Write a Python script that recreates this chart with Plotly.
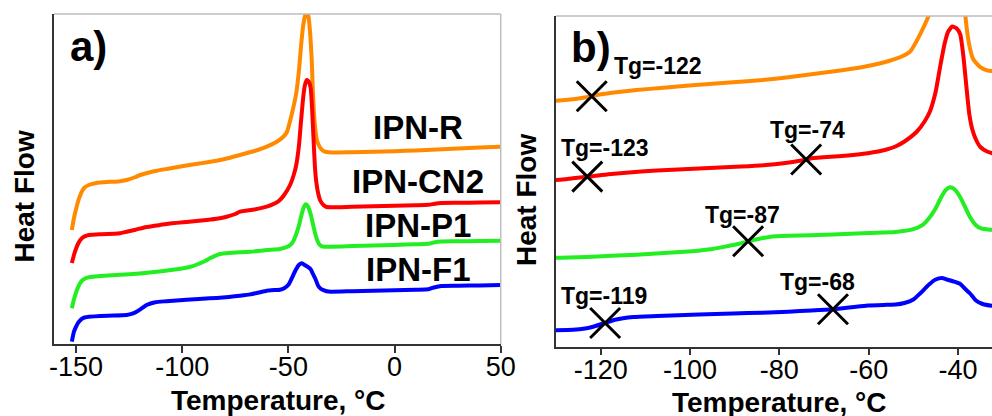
import numpy as np
import plotly.graph_objects as go

# ---- DSC heat-flow traces (temperature in degC, heat flow in arbitrary units) ----
samples = ["IPN-R", "IPN-CN2", "IPN-P1", "IPN-F1"]
colors = ["#ff8a00", "#ff0000", "#22ee22", "#0000ff"]

temp_r = [-152, -151, -150, -149, -148, -147, -146, -144, -141, -138.7, -134, -130, -126.2, -122,
          -119.9, -116, -112, -106, -99.5, -92, -83.8, -78, -72.8, -66, -60.2, -55.5, -52.5, -50.7,
          -48.5, -46.3, -45, -44, -43, -42, -41.3, -40.5, -39.7, -39, -38.4, -37.6, -36.6, -35.1,
          -33.5, -32, -30, -20, -10, 0, 10, 20, 30, 40, 50]
hf_r = [-45, -33, -24, -16, -10, -5.5, -2.5, 0, 1.8, 2.5, 3.2, 3.6, 5, 8,
        10, 12.3, 14.3, 16.5, 19, 21.5, 24.3, 27, 30, 34, 38.3, 43.3, 48, 53,
        70, 92, 115, 140, 160, 170, 173, 168, 150, 125, 90, 62, 45, 37.5,
        34, 33, 32.5, 32.8, 33.2, 33.8, 34.5, 35.5, 36.5, 37.5, 38.3]

temp_cn2 = [-152, -151, -150, -149, -148, -147, -146, -144, -138, -132, -129.3, -126.2, -122, -118.3,
            -113, -107.4, -98, -88.5, -83, -79.1, -75, -72.8, -66, -60.2, -56, -54, -52, -49.2,
            -47.5, -46.3, -45, -44, -43, -42.2, -41.3, -40.3, -39.5, -38.8, -38.2, -37.5, -36.8,
            -36, -35, -33.5, -32, -30, -20, -10, 0, 10, 16, 19, 22, 30, 40, 50]
hf_cn2 = [-28, -20, -13.5, -8.5, -5, -2.8, -1.4, 0, 0.8, 1.3, 1.7, 3.3, 5.3, 7.3,
          9.2, 11, 13, 15, 16.5, 18.3, 21, 23.3, 25.5, 28.3, 32, 35, 40, 50,
          60, 70, 90, 115, 138, 150, 155, 153, 147, 125, 98, 68, 52,
          42, 34.5, 30, 28, 27.7, 28.2, 28.7, 29.2, 29.7, 30.2, 31.3, 32, 32.2, 32.5, 32.7]

temp_p1 = [-152, -151, -150, -149, -148, -147, -146, -144, -135, -123, -112, -99.5, -95, -91.7,
           -89, -87, -84.5, -82.2, -78, -68, -60, -54, -50, -48, -46.5, -45, -44, -42.8, -41.8,
           -40.8, -39.5, -38.3, -37.3, -36, -35, -33, -30, -20, -10, 0, 10, 16, 19, 22, 30, 40, 50]
hf_p1 = [-31, -22, -15, -9.5, -5.5, -3, -1.4, 0, 1.8, 3.3, 5.5, 9, 11.2, 14,
         16.5, 19, 21.5, 23.3, 24.4, 25.6, 27.3, 28.3, 31, 35, 42, 52, 61, 70, 73,
         71, 63, 52, 43, 35, 32, 30.5, 30.6, 31.2, 31.8, 32.4, 33, 33.5, 35, 35.8, 36, 36.3, 36.6]

temp_f1 = [-152, -151, -150, -149, -148, -147, -146, -144, -135, -126.2, -123.5, -121.5, -119,
           -116.8, -112.7, -107.4, -98, -90.4, -83.8, -78, -72.8, -68, -63.4, -60.2, -56, -54,
           -52, -50, -48.5, -46.5, -45, -43.6, -42.5, -41, -39.5, -38.5, -37.3, -36, -34.5, -32,
           -30, -20, -10, 0, 10, 16, 19, 22, 30, 40, 50]
hf_f1 = [-25, -15, -10, -6, -3.5, -1.8, -0.8, 0, 1, 1.7, 3, 5, 8.5,
         11.7, 14.5, 15.5, 17, 18, 18.8, 19.8, 21, 22.3, 24.5, 26, 26.7, 27,
         28.5, 32, 38, 47, 52, 53.5, 52, 50, 47.5, 43, 38, 31, 27.5, 25.5,
         25, 25.5, 26, 26.5, 27, 27.5, 29.5, 30.7, 31, 31.3, 31.7]

temps = [temp_r, temp_cn2, temp_p1, temp_f1]
flows = [hf_r, hf_cn2, hf_p1, hf_f1]

# vertical shifts used to stack the curves in each panel
shift_a = [159, 109, 66.7, 27.3]
shift_b = [242.4, 165.2, 86.5, 15.2]

# glass transitions marked in panel b: (sample index, Tg in degC)
tg_sample = [0, 1, 1, 2, 3, 3]
tg_value = [-122, -123, -74, -87, -119, -68]
# label centre for each Tg (temperature, shifted heat flow)
tg_label_pos = [(-107.1, 281), (-119.0, 198.7), (-73.7, 217.2),
                (-88.2, 132), (-119.25, 50.7), (-71.45, 65)]

ticks_a = [-150, -100, -50, 0, 50]
ticks_b = [-120, -100, -80, -60, -40]

W, H = 992, 416
FONT = "Arial, Liberation Sans, sans-serif"

fig = go.Figure()

for i, name in enumerate(samples):
    t = np.array(temps[i])
    h = np.array(flows[i])
    fig.add_trace(go.Scatter(x=t, y=h + shift_a[i], mode="lines", name=name,
                             line=dict(color=colors[i], width=4, shape="spline", smoothing=0.5),
                             xaxis="x", yaxis="y", showlegend=False))
    fig.add_trace(go.Scatter(x=t, y=h + shift_b[i], mode="lines", name=name,
                             line=dict(color=colors[i], width=4, shape="spline", smoothing=0.5),
                             xaxis="x2", yaxis="y2", showlegend=False))

tg_y = [np.interp(tg, temps[s], flows[s]) + shift_b[s] for s, tg in zip(tg_sample, tg_value)]
fig.add_trace(go.Scatter(x=tg_value, y=tg_y, mode="markers", xaxis="x2", yaxis="y2",
                         marker=dict(symbol="x-thin", size=30,
                                     line=dict(color="black", width=3)),
                         showlegend=False))

axis_common = dict(showgrid=False, zeroline=False, showline=True, linecolor="#333333",
                   linewidth=1.5, automargin=False)
xaxis_common = dict(axis_common, ticks="outside", ticklen=7, tickwidth=1.5, tickcolor="#333333",
                    ticklabelstandoff=-9,
                    tickfont=dict(family=FONT, size=27, color="black"))

fig.update_layout(
    template="none",
    width=W, height=H,
    margin=dict(l=0, r=0, t=0, b=0, pad=0),
    paper_bgcolor="white", plot_bgcolor="white",
    xaxis=dict(xaxis_common, domain=[54 / W, 500.7 / W], range=[-160.4, 50],
               tickvals=ticks_a, ticktext=[str(v) for v in ticks_a], anchor="y"),
    yaxis=dict(axis_common, domain=[72 / H, 402 / H], range=[0, 330],
               showticklabels=False, ticks="", anchor="x"),
    xaxis2=dict(xaxis_common, domain=[556 / W, 1.0], range=[-130, -32.4],
                tickvals=ticks_b, ticktext=[str(v) for v in ticks_b], anchor="y2"),
    yaxis2=dict(axis_common, domain=[69.3 / H, 400 / H], range=[0, 330.7],
                showticklabels=False, ticks="", anchor="x2"),
)

# light frame on the top/right edges
frame = dict(color="#bdbdbd", width=1.5)
fig.add_shape(type="line", xref="x domain", yref="y domain", x0=0, x1=1, y0=1, y1=1, line=frame)
fig.add_shape(type="line", xref="x domain", yref="y domain", x0=1, x1=1, y0=0, y1=1, line=frame)
fig.add_shape(type="line", xref="x2 domain", yref="y2 domain", x0=0, x1=1, y0=1, y1=1, line=frame)


def px_note(text, x, y, size, angle=0):
    fig.add_annotation(text=text, x=x / W, y=1 - y / H, xref="paper", yref="paper",
                       xanchor="center", yanchor="middle", showarrow=False, textangle=angle,
                       font=dict(family=FONT, size=size, color="black"))


px_note("<b>a)</b>", 88.3, 46.7, 42)
px_note("<b>b)</b>", 591, 47.5, 42)
px_note("<b>Heat Flow</b>", 24, 196.5, 28, angle=-90)
px_note("<b>Heat Flow</b>", 526, 200, 28, angle=-90)
px_note("<b>Temperature, °C</b>", 278, 400.8, 28)
px_note("<b>Temperature, °C</b>", 779, 402.5, 28)

# sample names in panel a
for name, yc in zip(samples, [127.5, 181.5, 225.5, 269.5]):
    px_note("<b>%s</b>" % name, 418, yc, 33)

# Tg labels in panel b
for tg, (lx, ly) in zip(tg_value, tg_label_pos):
    fig.add_annotation(text="<b>Tg=%d</b>" % tg, x=lx, y=ly, xref="x2", yref="y2",
                       xanchor="center", yanchor="middle", showarrow=False,
                       font=dict(family=FONT, size=23, color="black"))

fig.write_html("out.html")
